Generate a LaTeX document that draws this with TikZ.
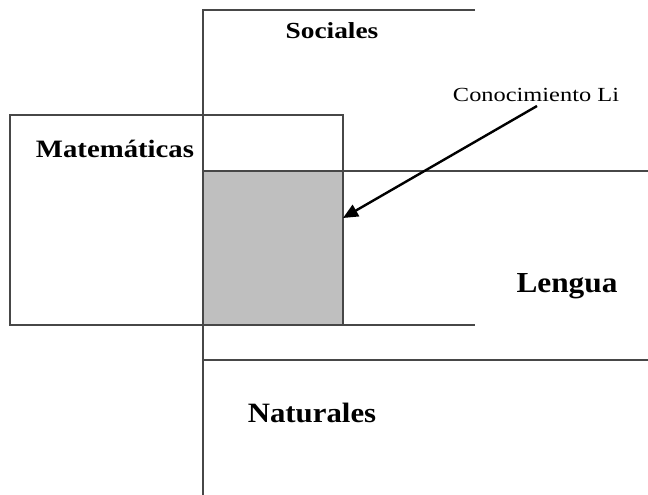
\documentclass[tikz,border=0pt]{standalone}
\usepackage{fontspec}
\setmainfont{Liberation Serif}
\usetikzlibrary{arrows.meta}
\begin{document}
\begin{tikzpicture}[x=1pt,y=-1pt,
  frame/.style={draw=black!72,line width=1.4pt},
  area/.style={font=\bfseries,anchor=base,inner sep=0pt,transform shape},
  pointer/.style={draw=black,line width=2.4pt,-{Triangle[length=15pt,width=13pt]}}]
\useasboundingbox (0,0) rectangle (648,495);
% shaded intersection
\fill[black!25] (203,171) rectangle (343,325);
% Sociales region
\draw[frame] (475,10) -- (203,10) -- (203,495);
% Matematicas region
\draw[frame] (10,115) rectangle (343,325);
% Lengua region
\draw[frame] (203,171) -- (648,171);
\draw[frame] (343,325) -- (475,325);
% Naturales region
\draw[frame] (203,360) -- (648,360);
% labels
\node[area,font=\bfseries\fontsize{23}{23}\selectfont,xscale=1.19] (soc) at (332,39) {Sociales};
\node[area,font=\bfseries\fontsize{25}{25}\selectfont,xscale=1.15] (mat) at (115,157) {Matemáticas};
\node[area,font=\bfseries\fontsize{29}{29}\selectfont,xscale=1.08] (len) at (567,292) {Lengua};
\node[area,font=\bfseries\fontsize{28}{28}\selectfont,xscale=1.1] (nat) at (312,422) {Naturales};
\node[anchor=base,inner sep=0pt,transform shape,font=\fontsize{20}{20}\selectfont,xscale=1.22] (con) at (536,101) {Conocimiento Li};
% arrow
\coordinate (start) at (537,106);
\coordinate (tip) at (343,218);
\draw[pointer] (start) -- (tip);
\end{tikzpicture}
\end{document}
